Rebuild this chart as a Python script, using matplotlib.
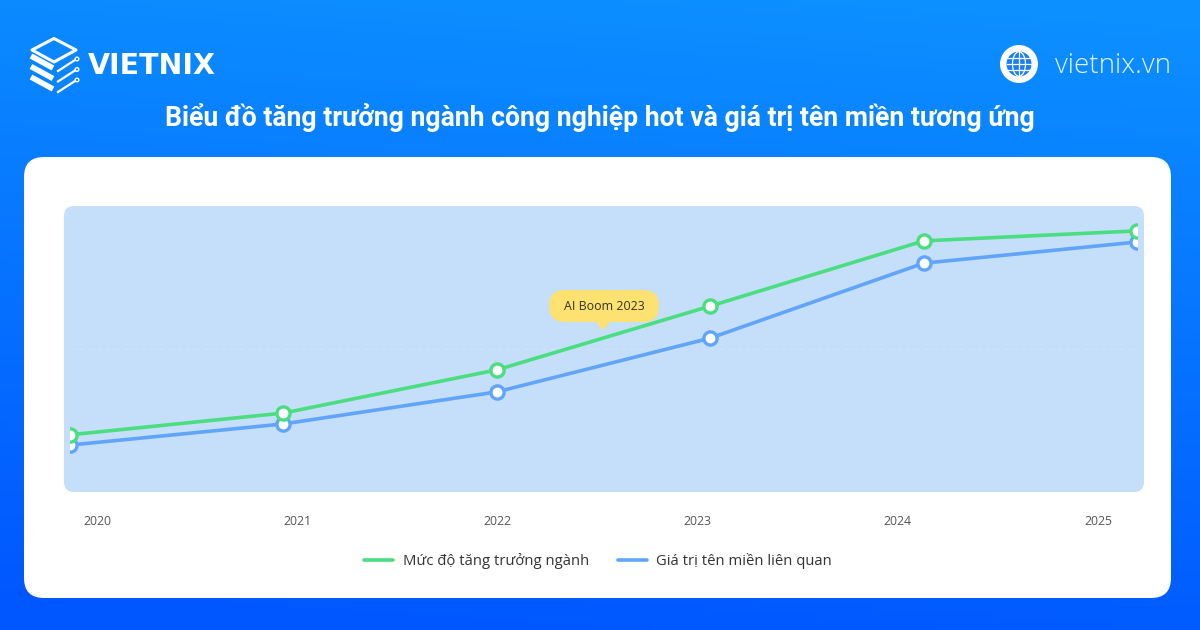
import numpy as np
import matplotlib
matplotlib.use("Agg")
import matplotlib.pyplot as plt
from matplotlib.patches import FancyBboxPatch, Polygon, Circle, Ellipse

years = ["2020", "2021", "2022", "2023", "2024", "2025"]
growth = [20, 27.6, 42.7, 65, 87.8, 91.3]
domain = [16.4, 23.8, 35, 53.8, 80, 87.4]
growth_label = "Mức độ tăng trưởng ngành"
domain_label = "Giá trị tên miền liên quan"
title = "Biểu đồ tăng trưởng ngành công nghiệp hot và giá trị tên miền tương ứng"
callout = "AI Boom 2023"

W, H = 1200, 630
GREEN, BLUE = "#4ade80", "#60a5fa"
fig = plt.figure(figsize=(12, 6.3), dpi=100)

def rect(x0, y0, x1, y1):
    return [x0 / W, 1 - y1 / H, (x1 - x0) / W, (y1 - y0) / H]

# background + decoration layer in pixel coordinates
bg = fig.add_axes([0, 0, 1, 1], zorder=0)
bg.set_xlim(0, W); bg.set_ylim(H, 0); bg.axis("off")
yy, xx = np.mgrid[0:1:160j, 0:1:160j]
t = np.clip(yy * 0.95 - 0.12 * xx + 0.08, 0, 1)[..., None]
top, bot = np.array([12, 143, 255]) / 255, np.array([0, 86, 255]) / 255
bg.imshow(top * (1 - t) + bot * t, extent=[0, W, H, 0], aspect="auto", zorder=0)
bg.set_xlim(0, W); bg.set_ylim(H, 0)

def rbox(x0, y0, x1, y1, r, color, z):
    bg.add_patch(FancyBboxPatch((x0 + r, y0 + r), x1 - x0 - 2 * r, y1 - y0 - 2 * r,
                                boxstyle=f"round,pad={r},rounding_size={r}",
                                fc=color, ec="none", zorder=z))

rbox(24, 157, 1171, 598, 20, "white", 1)
rbox(64, 206, 1144, 492, 10, "#c5defa", 2)

# logo
diamond = [(54, 38.5), (76, 50), (54, 62), (32, 50)]
bg.add_patch(Polygon(diamond, closed=True, fc="none", ec="white", lw=2.2, joinstyle="round", zorder=3))
for dy in (0, 10.5, 21):
    bg.plot([31, 53], [56 + dy, 68 + dy], color="white", lw=4, solid_capstyle="butt", zorder=3)
    bg.plot([58, 75], [71 + dy, 60 + dy], color="white", lw=1.6, zorder=3)
    bg.add_patch(Circle((77, 59 + dy), 1.8, fc="none", ec="white", lw=1, zorder=3))
bg.text(88, 65.5, "VIETNIX", color="white", fontsize=20.5, family="DejaVu Sans",
        weight="bold", ha="left", va="center", zorder=3)

# globe icon
bg.add_patch(Circle((1019, 64), 19, fc="white", ec="none", zorder=3))
bg.add_patch(Circle((1019, 64), 12.5, fc="#1a7ff5", ec="none", zorder=3))
for dy in (-6, 0, 6):
    bg.plot([1007, 1031], [64 + dy, 64 + dy], color="white", lw=0.9, zorder=4)
bg.plot([1019, 1019], [52, 76], color="white", lw=0.9, zorder=4)
bg.add_patch(Ellipse((1019, 64), 13, 24.5, fc="none", ec="white", lw=0.9, zorder=4))
bg.text(1055, 66, "vietnix.vn", color="#e6f3ff", fontsize=20, family="Open Sans",
        weight="light", ha="left", va="center", zorder=3)
bg.text(600, 118, title, color="white", fontsize=19.2, family="Roboto", weight="bold",
        ha="center", va="center", zorder=3)

# data axes: lines are clipped at the first/last category
ax = fig.add_axes(rect(70, 206, 1137, 492), zorder=2)
ax.patch.set_alpha(0)
x = np.arange(len(years))
ax.set_xlim(0, 5); ax.set_ylim(0, 100)
for s in ax.spines.values():
    s.set_visible(False)
ax.set_xticks([])
ax.set_yticks([50]); ax.set_yticklabels([])
ax.tick_params(length=0)
ax.grid(axis="y", color="#d0e3fa", lw=0.8, ls=(0, (4, 4)))
ax.set_axisbelow(True)
for vals, col, lab in ((domain, BLUE, domain_label), (growth, GREEN, growth_label)):
    ax.plot(x, vals, color=col, lw=2.6, label=lab, zorder=3, solid_capstyle="round")
    ax.plot(x, vals, ls="none", marker="o", ms=9.5, mfc="white", mec=col, mew=2.4, zorder=4)

# category labels are evenly spaced independently of the data points
lab = fig.add_axes(rect(97, 492, 1098, 493), zorder=2)
lab.patch.set_alpha(0)
for s in lab.spines.values():
    s.set_visible(False)
lab.set_xlim(0, 5); lab.set_yticks([])
lab.set_xticks(x); lab.set_xticklabels(years, fontsize=8.8, family="Open Sans", color="#555555")
lab.tick_params(axis="x", length=0, pad=16)

h, l = ax.get_legend_handles_labels()
leg = fig.legend(h[::-1], l[::-1], loc="center", bbox_to_anchor=(598 / W, 1 - 561 / H), ncol=2,
                 frameon=False, handlelength=1.95, handletextpad=0.65, columnspacing=1.95,
                 prop={"family": "Open Sans", "size": 10.7}, labelcolor="#333333")

# callout above the plot
top_ax = fig.add_axes([0, 0, 1, 1], zorder=5)
top_ax.set_xlim(0, W); top_ax.set_ylim(H, 0); top_ax.axis("off")
r = 15.9
top_ax.add_patch(FancyBboxPatch((549 + r, 290 + r), 110 - 2 * r, 32 - 2 * r,
                                boxstyle=f"round,pad={r},rounding_size={r}", fc="#fde272", ec="none"))
top_ax.add_patch(Polygon([(596, 322), (610, 322), (603, 330)], closed=True, fc="#fde272", ec="none"))
top_ax.text(604, 306.5, callout, fontsize=8.9, family="Open Sans", color="#333322", ha="center", va="center")

fig.savefig("out.png", dpi=100)
